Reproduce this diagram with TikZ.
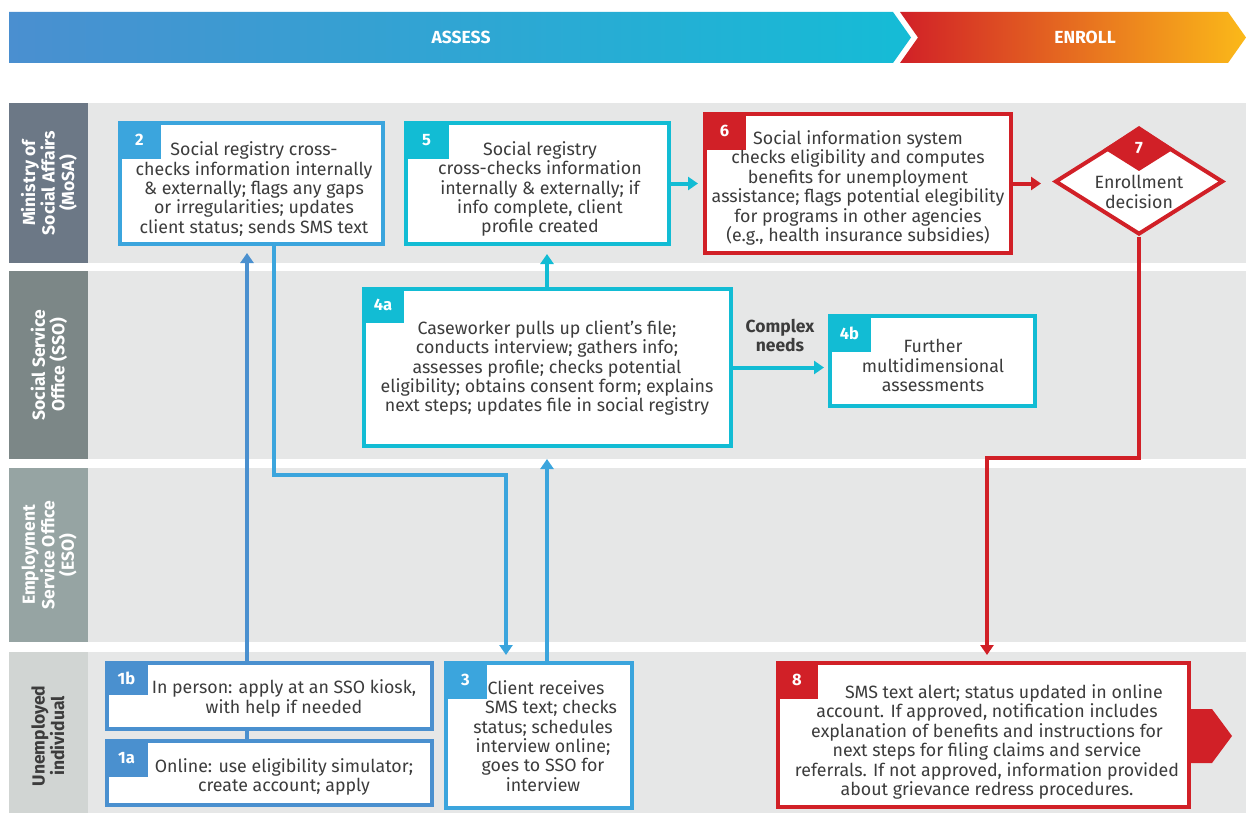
\documentclass[tikz,border=0pt]{standalone}
\usepackage{fontspec}
\setmainfont{Fira Sans}
\usetikzlibrary{arrows.meta,shapes.geometric,calc}
\definecolor{cbA}{HTML}{4A90CF}
\definecolor{cbB}{HTML}{3BA5DD}
\definecolor{ccy}{HTML}{12BCD4}
\definecolor{cred}{HTML}{D12027}
\definecolor{lanebg}{HTML}{E6E7E7}
\definecolor{lab1}{HTML}{6C7886}
\definecolor{lab2}{HTML}{7C8787}
\definecolor{lab3}{HTML}{96A4A3}
\definecolor{lab4}{HTML}{D1D5D3}
\definecolor{txt}{HTML}{3C3C3C}
\definecolor{orangeM}{HTML}{EF6A2A}
\definecolor{yel}{HTML}{FBB919}
\definecolor{bandL}{HTML}{4A8FD0}
\definecolor{bandM}{HTML}{3BA5DD}
\definecolor{bandR}{HTML}{15BCD6}
\tikzset{
  flowbox/.style={draw=#1, line width=4pt, fill=white, inner sep=0pt, outer sep=0pt, anchor=north west},
  numlab/.style={text=white, font=\fontsize{16.5}{16.5}\selectfont\bfseries, inner sep=0pt},
  bodytxt/.style={text=txt, align=center, font=\fontsize{17.8}{19.4}\selectfont, inner sep=0pt},
  lanelab/.style={rotate=90, align=center, font=\fontsize{17.5}{19.5}\selectfont\bfseries, inner sep=0pt},
  conn/.style={draw=#1, line width=4pt, -{Triangle[width=13pt,length=10pt]}},
  plain/.style={draw=#1, line width=4pt},
  bandtxt/.style={text=white, font=\fontsize{17.5}{17.5}\selectfont\bfseries, inner sep=0pt},
}
\begin{document}
\begin{tikzpicture}[x=1pt,y=-1pt]
\useasboundingbox (0,0) rectangle (1246,813);
\fill[white] (0,0) rectangle (1246,813);
% banners
\shade[left color=bandL, middle color=bandM, right color=bandR, shading angle=90]
  (9,12) -- (893,12) -- (911,37.5) -- (893,63) -- (9,63) -- cycle;
\shade[left color=cred, middle color=orangeM, right color=yel]
  (900,12) -- (1228,12) -- (1246,37.5) -- (1228,63) -- (900,63) -- (918,37.5) -- cycle;
\node[bandtxt] (assess) at (461,37.5) {ASSESS};
\node[bandtxt] (enroll) at (1085,37.5) {ENROLL};
% lanes
\fill[lanebg] (88,103) rectangle (1246,263);
\fill[lab1] (9,103) rectangle (88,263);
\fill[lanebg] (88,271) rectangle (1246,459);
\fill[lab2] (9,271) rectangle (88,459);
\fill[lanebg] (88,468) rectangle (1246,642);
\fill[lab3] (9,468) rectangle (88,642);
\fill[lanebg] (88,652) rectangle (1246,813);
\fill[lab4] (9,652) rectangle (88,813);
\node[lanelab, text=white] (l1) at (49,183) {Ministry of\\Social Affairs\\(MoSA)};
\node[lanelab, text=white] (l2) at (49,365) {Social Service\\Office (SSO)};
\node[lanelab, text=white] (l3) at (49,555) {Employment\\Service Office\\(ESO)};
\node[lanelab, text=txt] (l4) at (48,736) {Unemployed\\individual};
% boxes
\node[flowbox=cbB, minimum width=263pt, minimum height=121pt] (b2) at (120,123) {};
\fill[cbB] (118,121) rectangle (161,159);
\node[numlab] (n2) at (139.5,140) {2};
\node[bodytxt] (t2) at (254,189) {Social registry cross-\\checks information internally\\\& externally; flags any gaps\\or irregularities; updates\\client status; sends SMS text};

\node[flowbox=ccy, minimum width=263pt, minimum height=121pt] (b5) at (406,123) {};
\fill[ccy] (404,121) rectangle (449,159);
\node[numlab] (n5) at (426.5,140) {5};
\node[bodytxt] (t5) at (540,189) {Social registry\\cross-checks information\\internally \& externally; if\\info complete, client\\profile created};

\node[flowbox=cred, minimum width=306pt, minimum height=139pt] (b6) at (705,114) {};
\fill[cred] (703,112) rectangle (746,150);
\node[numlab] (n6) at (724.5,131) {6};
\node[bodytxt] (t6) at (858,188) {Social information system\\checks eligibility and computes\\benefits for unemployment\\assistance; flags potential elegibility\\for programs in other agencies\\(e.g., health insurance subsidies)};

\node[diamond, draw=cred, line width=4pt, fill=white, minimum width=168pt, minimum height=106pt, inner sep=0pt] (d7) at (1139,181.5) {};
\fill[cred] (1139,126) -- (1174,149) -- (1139,171) -- (1104,149) -- cycle;
\node[numlab] (n7) at (1139,148) {7};
\node[bodytxt] (t7) at (1139,192) {Enrollment\\decision};

\node[flowbox=ccy, minimum width=367pt, minimum height=157pt] (b4a) at (364,289) {};
\fill[ccy] (362,287) rectangle (404,323);
\node[numlab] (n4a) at (383,305) {4a};
\node[bodytxt] (t4a) at (547,368) {Caseworker pulls up client's file;\\conducts interview; gathers info;\\assesses profile; checks potential\\eligibility; obtains consent form; explains\\next steps; updates file in social registry};

\node[flowbox=ccy, minimum width=205pt, minimum height=90pt] (b4b) at (830,316) {};
\fill[ccy] (828,314) rectangle (871,352);
\node[numlab] (n4b) at (849.5,333) {4b};
\node[bodytxt] (t4b) at (933,365.5) {Further\\multidimensional\\assessments};

\node[flowbox=cbA, minimum width=325pt, minimum height=66pt] (b1b) at (107,663) {};
\fill[cbA] (105,661) rectangle (148,695);
\node[numlab] (n1b) at (126.5,678) {1b};
\node[bodytxt] (t1b) at (284,698.5) {In person: apply at an SSO kiosk,\\with help if needed};

\node[flowbox=cbA, minimum width=325pt, minimum height=64pt] (b1a) at (107,741) {};
\fill[cbA] (105,739) rectangle (148,777);
\node[numlab] (n1a) at (126.5,758) {1a};
\node[bodytxt] (t1a) at (284,777) {Online: use eligibility simulator;\\create account; apply};

\node[flowbox=cbB, minimum width=186pt, minimum height=145pt] (b3) at (446,663) {};
\fill[cbB] (444,661) rectangle (487,699);
\node[numlab] (n3) at (465.5,680) {3};
\node[bodytxt] (t3) at (543,736) {\hspace*{6pt}Client receives\\\hspace*{16pt}SMS text; checks\\status; schedules\\interview online;\\goes to SSO for\\interview};

\node[flowbox=cred, minimum width=411pt, minimum height=144pt] (b8) at (778,663) {};
\fill[cred] (776,661) rectangle (818,699);
\node[numlab] (n8) at (797,680) {8};
\node[bodytxt] (t8) at (987,742) {\hspace*{34pt}SMS text alert; status updated in online\\account. If approved, notification includes\\explanation of benefits and instructions for\\next steps for filing claims and service\\referrals. If not approved, information provided\\about grievance redress procedures.};
\fill[cred] (1189,709) -- (1212,709) -- (1232,736) -- (1212,763) -- (1189,763) -- cycle;

% connectors
\draw[plain=cbA] ([xshift=140pt]b1a.north west) -- ([xshift=140pt]b1b.south west);
\draw[conn=cbA, shorten >=9pt] ([xshift=140pt]b1b.north west) -- ([xshift=140pt]b1b.north west |- b2.south);
\draw[conn=cbB, shorten >=8pt] ([xshift=154pt]b2.south west) -- ++(0,231) -| ([xshift=60pt]b3.north west);
\draw[conn=cbB, shorten >=13pt] ([xshift=101pt]b3.north west) -- ([xshift=101pt]b3.north west |- b4a.south);
\draw[conn=ccy, shorten >=10pt] ([xshift=183pt]b4a.north west) -- ([xshift=183pt]b4a.north west |- b5.south);
\draw[conn=ccy, shorten >=7pt] (b5.east) -- (b6.west);
\draw[conn=cred, shorten >=12pt] (b6.east) -- (b6.east -| d7.west);
\draw[conn=ccy, shorten >=6pt] (b4a.east) -- (b4a.east -| b4b.west);
\node[text=txt, align=center, font=\fontsize{17.5}{19.4}\selectfont\bfseries, inner sep=0pt] (cn) at (780,335.5) {Complex\\needs};
\draw[conn=cred, shorten >=8pt] (d7.south) -- ++(0,221.5) -| ([xshift=209pt]b8.north west);
\end{tikzpicture}
\end{document}
